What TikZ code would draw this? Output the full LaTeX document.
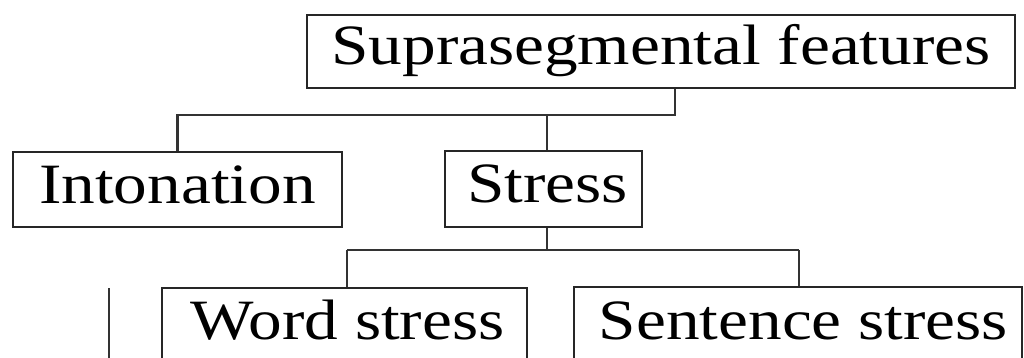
\documentclass[tikz,border=0pt]{standalone}
\usepackage{fontspec}
\setmainfont{Liberation Serif}
\newcommand{\wide}[1]{\scalebox{1.18}[1]{#1}}
\begin{document}
\begin{tikzpicture}[x=1pt,y=-1pt,
  box/.style={draw=black!85, line width=2.4pt, inner sep=0pt, text height=38pt, text depth=11pt,
    font=\fontsize{57}{60}\selectfont},
  conn/.style={draw=black!80, line width=2.2pt}]
\clip (0,0) rectangle (1024,358);
\fill[white] (0,0) rectangle (1024,358);
\node[box, minimum width=708pt, minimum height=73pt] (sup) at (661,51.5) {\wide{Suprasegmental features}};
\node[box, minimum width=329pt, minimum height=75pt] (int) at (177.5,189.5) {\wide{Intonation}};
\node[box, minimum width=197pt, minimum height=76pt] (str) at (543.5,189) {\hspace*{8pt}\wide{Stress}};
\node[box, minimum width=365pt, minimum height=76pt] (word) at (344.5,326) {\hspace*{6pt}\wide{Word stress}};
\node[box, minimum width=448pt, minimum height=78pt] (sent) at (798,326) {\hspace*{11pt}\wide{Sentence stress}};
\coordinate (j1) at (675,115);
\coordinate (j2) at (547,115);
\coordinate (j3) at (547,250);
\coordinate (j4) at (347,250);
\coordinate (j5) at (799,250);
\coordinate (s1) at (109,288);
\coordinate (s2) at (109,358);
\draw[conn] (sup.south -| j1) -- (j1) -| (int.north);
\draw[conn] (j2) -- (str.north -| j2);
\draw[conn] (str.south -| j3) -- (j3);
\draw[conn] (j4) -- (j5);
\draw[conn] (j4) -- (word.north -| j4);
\draw[conn] (j5) -- (sent.north -| j5);
\draw[conn] (s1) -- (s2);
\end{tikzpicture}
\end{document}
